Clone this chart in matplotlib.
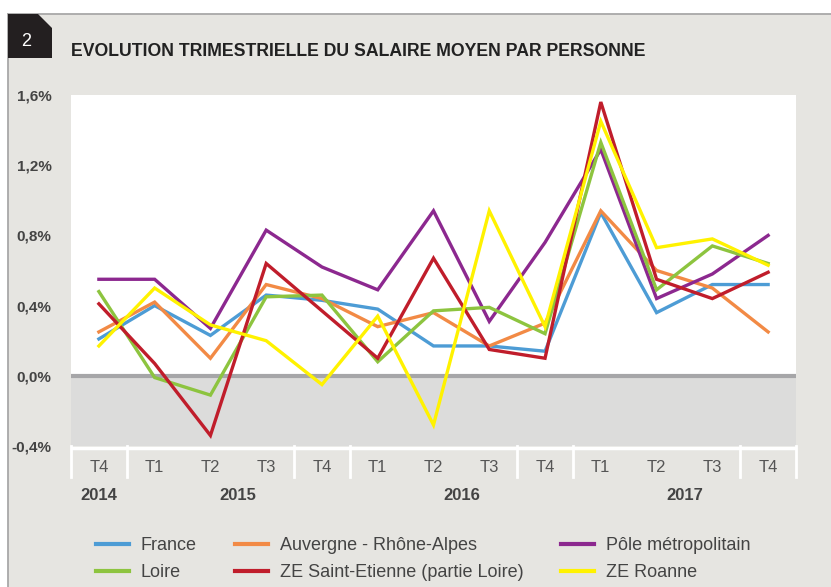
# quarterly evolution of the average salary per person

import matplotlib.pyplot as plt
from matplotlib.patches import Polygon, Rectangle
from matplotlib.lines import Line2D

plt.rcParams['font.family'] = ['Liberation Sans', 'DejaVu Sans']

# Data (values in %)
quarters = ["T4", "T1", "T2", "T3", "T4", "T1", "T2", "T3", "T4", "T1", "T2", "T3", "T4"]
years = ["2014", "2015", "2016", "2017"]
year_centers = [0, 2.5, 6.5, 10.5]

france = [0.21, 0.40, 0.23, 0.46, 0.43, 0.38, 0.17, 0.17, 0.14, 0.93, 0.36, 0.52, 0.52]
auvergne = [0.25, 0.42, 0.10, 0.52, 0.44, 0.28, 0.36, 0.17, 0.30, 0.94, 0.60, 0.50, 0.25]
pole = [0.55, 0.55, 0.27, 0.83, 0.62, 0.49, 0.94, 0.31, 0.76, 1.29, 0.44, 0.58, 0.80]
loire = [0.48, -0.01, -0.11, 0.45, 0.46, 0.08, 0.37, 0.39, 0.24, 1.33, 0.49, 0.74, 0.64]
ze_st_etienne = [0.41, 0.07, -0.34, 0.64, 0.37, 0.10, 0.67, 0.15, 0.10, 1.56, 0.55, 0.44, 0.59]
ze_roanne = [0.17, 0.50, 0.29, 0.20, -0.05, 0.34, -0.28, 0.94, 0.28, 1.45, 0.73, 0.78, 0.63]

series = [
    ("France", france, "#4d9cd5"),
    ("Auvergne - Rhône-Alpes", auvergne, "#f28a45"),
    ("Pôle métropolitain", pole, "#8c288f"),
    ("Loire", loire, "#8dc43f"),
    ("ZE Saint-Etienne (partie Loire)", ze_st_etienne, "#c01d2b"),
    ("ZE Roanne", ze_roanne, "#fff200"),
]

W, H = 831, 587
bg = "#e6e5e1"

fig = plt.figure(figsize=(W / 100, H / 100), dpi=100)
fig.patch.set_facecolor("white")

# grey panel with top / left border
fig.patches.append(Rectangle((8 / W, 0), 1, 1 - 14 / H, transform=fig.transFigure,
                             facecolor=bg, edgecolor="none", zorder=-5))
fig.add_artist(Line2D([8 / W, 1], [1 - 14 / H, 1 - 14 / H], transform=fig.transFigure,
                      color="#a8a8a8", lw=1.3, zorder=-4))
fig.add_artist(Line2D([8 / W, 8 / W], [0, 1 - 14 / H], transform=fig.transFigure,
                      color="#a8a8a8", lw=1.3, zorder=-4))

# black tab with the chart number
tab = [(8, 14), (38, 14), (52, 28), (52, 58), (8, 58)]
fig.patches.append(Polygon([(x / W, 1 - y / H) for x, y in tab], closed=True,
                           transform=fig.transFigure, facecolor="#231f20",
                           edgecolor="none", zorder=1))
fig.text(26 / W, 1 - 41 / H, "2", color="white", fontsize=13, ha="center", va="center")

# title
fig.text(71 / W, 1 - 51 / H, "EVOLUTION TRIMESTRIELLE DU SALAIRE MOYEN PAR PERSONNE",
         fontsize=12.7, fontweight="bold", color="#222222", va="center")

# plot area
ax_left, ax_right, ax_top, ax_bottom = 71, 796, 95, 446
ax = fig.add_axes([ax_left / W, 1 - ax_bottom / H, (ax_right - ax_left) / W,
                   (ax_bottom - ax_top) / H])
ax.set_facecolor("white")
x = list(range(len(quarters)))

ax.axhspan(-0.4, 0, color="#dcdcdb", zorder=0)
ax.axhline(0, color="#a6a6a8", lw=3, zorder=1)

for name, values, color in series:
    ax.plot(x, values, color=color, lw=2.4, label=name, zorder=2,
            solid_joinstyle="miter")

ax.set_xlim(-0.5, 12.5)
ax.set_ylim(-0.4, 1.6)
ax.set_yticks([-0.4, 0.0, 0.4, 0.8, 1.2, 1.6])
ax.set_yticklabels(["-0,4%", "0,0%", "0,4%", "0,8%", "1,2%", "1,6%"],
                   fontweight="bold", fontsize=11, color="#444444")
ax.tick_params(axis="y", length=0, pad=14)
ax.set_xticks([])
for s in ax.spines.values():
    s.set_visible(False)

# category axis: white line, separators, quarter and year labels
trans = ax.get_xaxis_transform()
ax.plot([-0.5, 12.5], [-0.005, -0.005], transform=trans, color="white", lw=2.5,
        clip_on=False, solid_capstyle="butt")
for sep in [-0.5, 0.5, 3.5, 4.5, 7.5, 8.5, 11.5, 12.5]:
    ax.plot([sep, sep], [0, -0.088], transform=trans, color="white", lw=2,
            clip_on=False)
for i, q in enumerate(quarters):
    ax.text(i, -21 / 351, q, transform=trans, ha="center", va="center",
            fontsize=12, color="#555555")
for c, yr in zip(year_centers, years):
    ax.text(c, -50 / 351, yr, transform=trans, ha="center", va="center",
            fontsize=12, fontweight="bold", color="#444444")

# legend (row-major order like the original)
handles, labels = ax.get_legend_handles_labels()
order = [0, 3, 1, 4, 2, 5]
leg = fig.legend([handles[i] for i in order], [labels[i] for i in order], ncol=3,
                 loc="upper left", bbox_to_anchor=(96 / W, 1 - 537 / H),
                 frameon=False, fontsize=13, borderaxespad=0, borderpad=0,
                 handlelength=1.83, handletextpad=0.66, columnspacing=2.1,
                 labelspacing=0.55)
for t in leg.get_texts():
    t.set_color("#444444")
for l in leg.get_lines():
    l.set_linewidth(3)

plt.savefig("out.png", dpi=100, facecolor=fig.get_facecolor())
